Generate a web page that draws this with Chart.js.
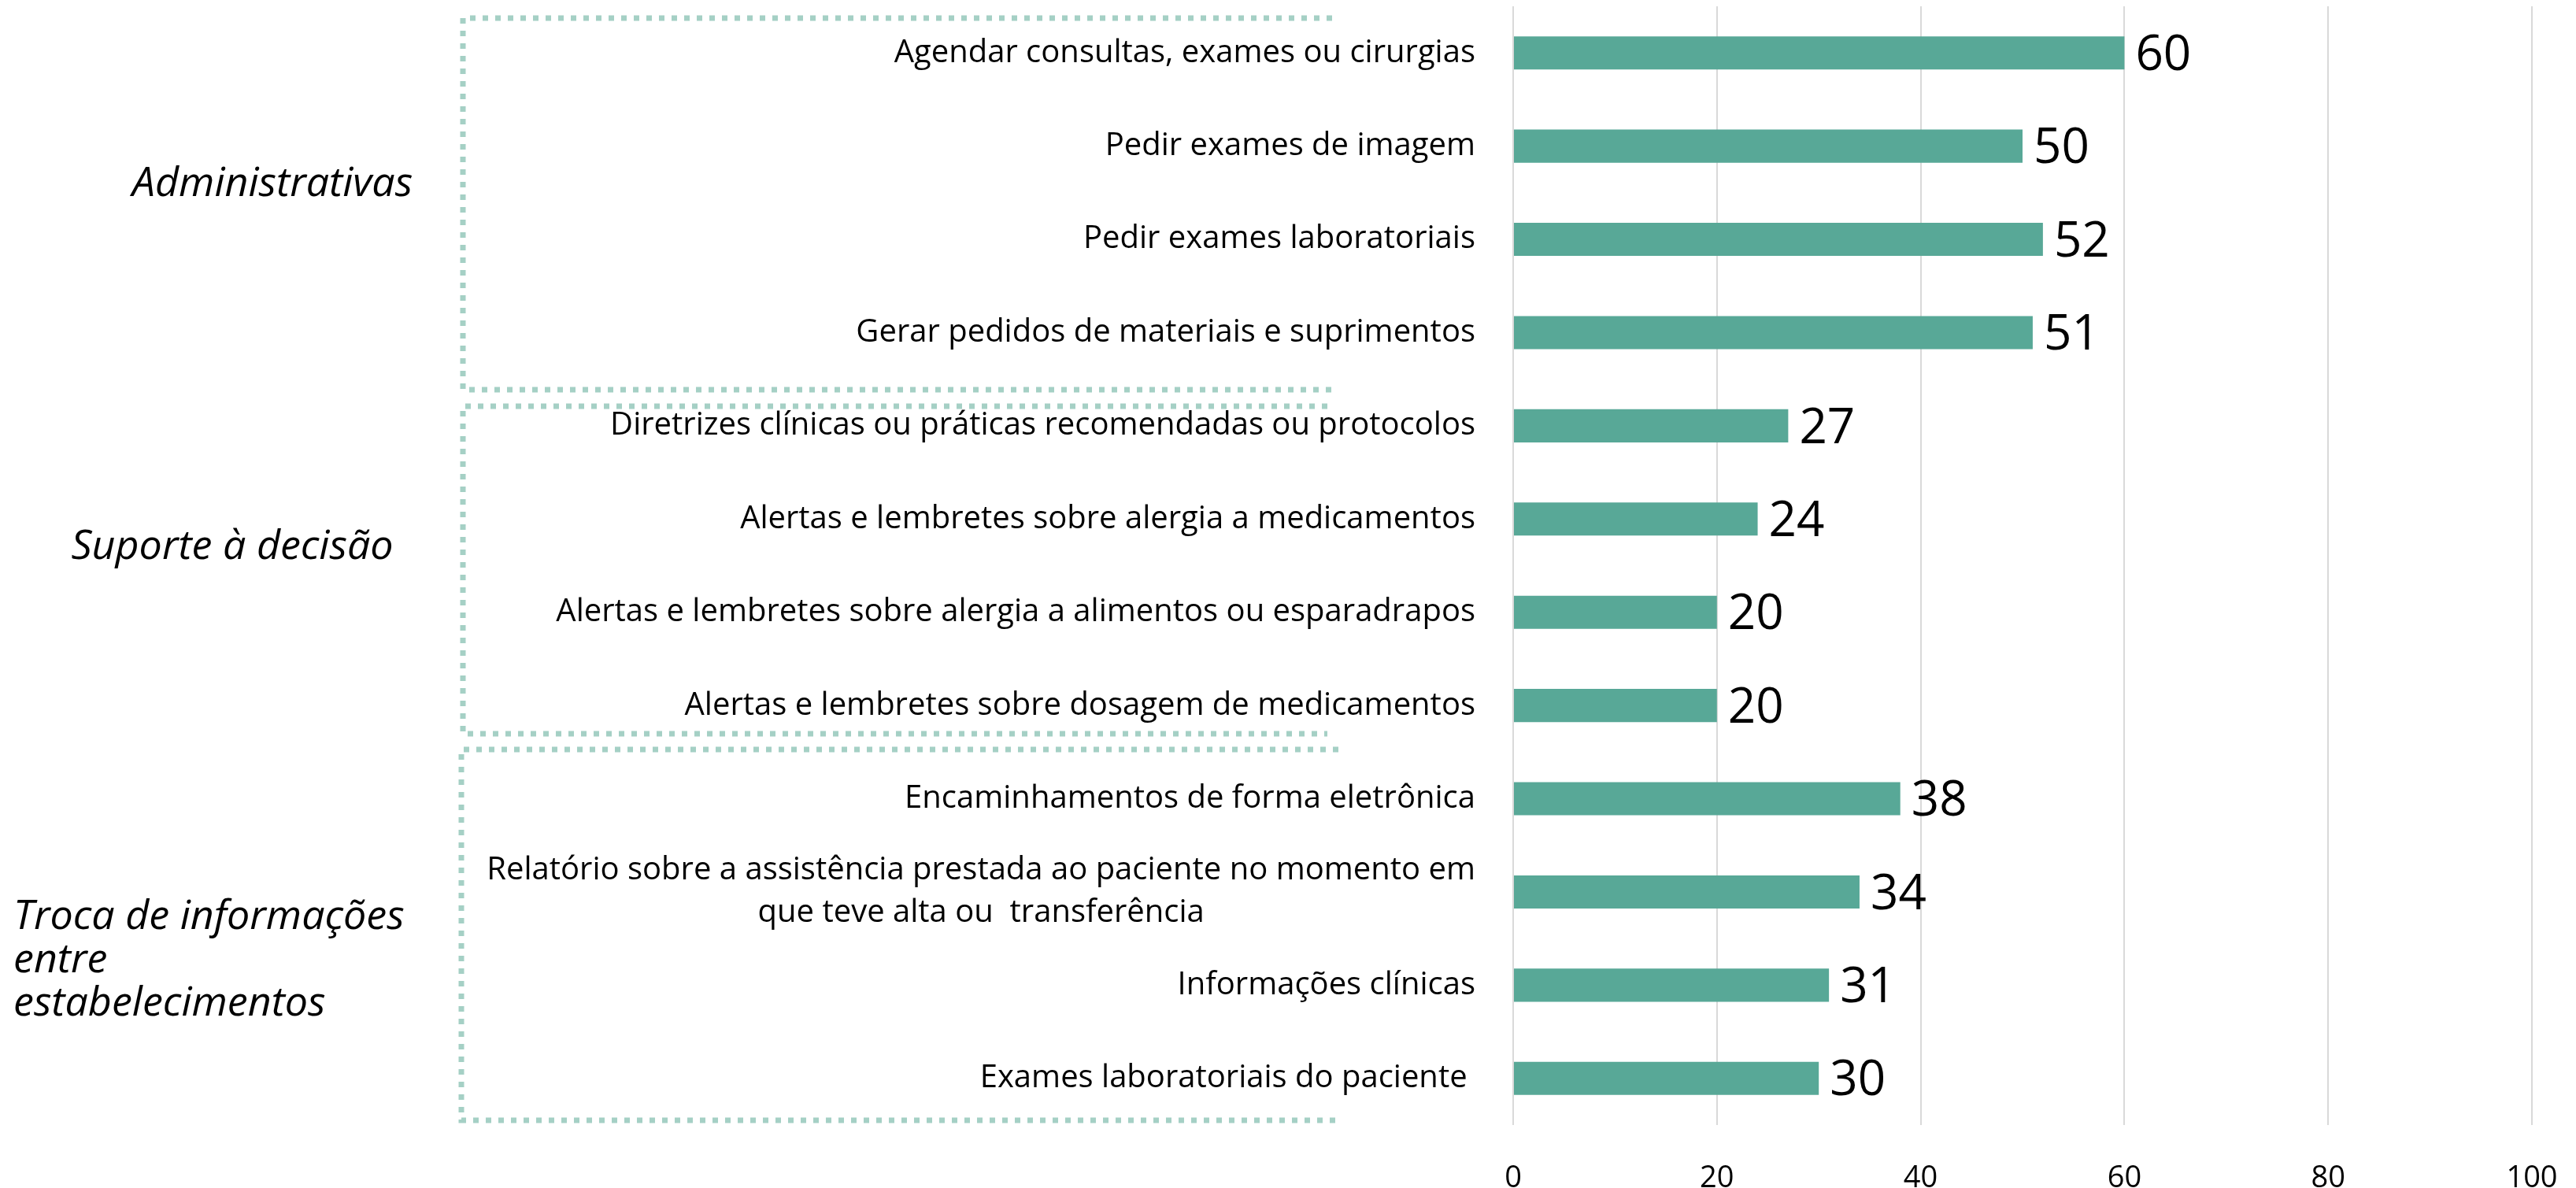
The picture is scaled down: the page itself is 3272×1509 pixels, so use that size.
<!DOCTYPE html>
<html>
<head>
<meta charset="utf-8">
<script src="https://cdn.jsdelivr.net/npm/chart.js@4"></script>
<style>
  html, body { margin: 0; padding: 0; background: #fff; }
  #chart { display: block; }
</style>
</head>
<body>
<canvas id="chart" width="3272" height="1509"></canvas>
<script>
// Chart data
const categories = [
    'Agendar consultas, exames ou cirurgias',
    'Pedir exames de imagem',
    'Pedir exames laboratoriais',
    'Gerar pedidos de materiais e suprimentos',
    'Diretrizes clínicas ou práticas recomendadas ou protocolos',
    'Alertas e lembretes sobre alergia a medicamentos',
    'Alertas e lembretes sobre alergia a alimentos ou esparadrapos',
    'Alertas e lembretes sobre dosagem de medicamentos',
    'Encaminhamentos de forma eletrônica',
    ['Relatório sobre a assistência prestada ao paciente no momento em', 'que teve alta ou  transferência'],
    'Informações clínicas',
    'Exames laboratoriais do paciente '
];
const values = [60, 50, 52, 51, 27, 24, 20, 20, 38, 34, 31, 30];
const xTicks = [0, 20, 40, 60, 80, 100];
const groupNames = [
    ['Administrativas'],
    ['Suporte à decisão'],
    ['Troca de informações', 'entre', 'estabelecimentos']
];

const FONT = '"Open Sans", "Noto Sans", sans-serif';
const BAR_COLOR = '#58a897';
const BRACKET_COLOR = '#a5d0c5';

// category labels drawn to the left of the plot, multi-line ones centred on their block
const categoryLabels = {
    id: 'categoryLabels',
    afterDraw(chart) {
        const ctx = chart.ctx;
        const y = chart.scales.y;
        const right = chart.chartArea.left - 48;
        const lineH = 54;
        ctx.save();
        ctx.font = '40px ' + FONT;
        ctx.fillStyle = '#000';
        ctx.textBaseline = 'middle';
        categories.forEach((label, i) => {
            const cy = y.getPixelForValue(i);
            if (Array.isArray(label)) {
                const maxW = Math.max(...label.map(l => ctx.measureText(l).width));
                const cx = right - maxW / 2;
                ctx.textAlign = 'center';
                label.forEach((line, j) => {
                    ctx.fillText(line, cx, cy + (j - (label.length - 1) / 2) * lineH);
                });
            } else {
                ctx.textAlign = 'right';
                ctx.fillText(label, right, cy);
            }
        });
        ctx.restore();
    }
};

// numbers at the end of each bar
const valueLabels = {
    id: 'valueLabels',
    afterDatasetsDraw(chart) {
        const ctx = chart.ctx;
        const meta = chart.getDatasetMeta(0);
        ctx.save();
        ctx.font = '62px ' + FONT;
        ctx.fillStyle = '#000';
        ctx.textAlign = 'left';
        ctx.textBaseline = 'middle';
        meta.data.forEach((bar, i) => {
            ctx.fillText(String(values[i]), bar.x + 14, bar.y + 4);
        });
        ctx.restore();
    }
};

// dotted brackets and italic group titles on the left
const groupBrackets = {
    id: 'groupBrackets',
    afterDraw(chart) {
        const ctx = chart.ctx;
        const boxes = [
            { left: 588, right: 1692, top: 23, bottom: 495 },
            { left: 588, right: 1686, top: 516, bottom: 932 },
            { left: 586, right: 1700, top: 952, bottom: 1423 }
        ];
        const titles = [
            { x: 346, y: 234, align: 'center' },
            { x: 295, y: 695, align: 'center' },
            { x: 17, y: 1165, align: 'left' }
        ];
        ctx.save();
        ctx.strokeStyle = BRACKET_COLOR;
        ctx.lineWidth = 7;
        ctx.setLineDash([7, 9]);
        boxes.forEach(b => {
            ctx.beginPath();
            ctx.moveTo(b.right, b.top);
            ctx.lineTo(b.left, b.top);
            ctx.lineTo(b.left, b.bottom);
            ctx.lineTo(b.right, b.bottom);
            ctx.stroke();
        });
        ctx.setLineDash([]);
        ctx.font = 'italic 52px ' + FONT;
        ctx.fillStyle = '#000';
        ctx.textBaseline = 'middle';
        groupNames.forEach((lines, i) => {
            const t = titles[i];
            ctx.textAlign = t.align;
            lines.forEach((line, j) => {
                ctx.fillText(line, t.x, t.y + j * 55);
            });
        });
        ctx.restore();
    }
};

document.addEventListener('DOMContentLoaded', function() {
    const ctx = document.getElementById('chart').getContext('2d');

    new Chart(ctx, {
        type: 'bar',
        data: {
            labels: categories,
            datasets: [{
                data: values,
                backgroundColor: BAR_COLOR,
                borderWidth: 0,
                barPercentage: 0.71,
                categoryPercentage: 0.5
            }]
        },
        options: {
            indexAxis: 'y',
            responsive: false,
            animation: false,
            layout: {
                padding: { left: 1922, right: 56, top: 8, bottom: 0 }
            },
            plugins: {
                legend: { display: false },
                tooltip: { enabled: false }
            },
            scales: {
                y: {
                    display: false
                },
                x: {
                    min: 0,
                    max: 100,
                    afterBuildTicks: scale => {
                        scale.ticks = xTicks.map(v => ({ value: v }));
                    },
                    afterFit: scale => {
                        scale.height = 80;
                        // let the layout padding alone decide the plot edges
                        scale.paddingLeft = 0;
                        scale.paddingRight = 0;
                    },
                    border: { display: false },
                    grid: {
                        color: '#d9d9d9',
                        lineWidth: 2,
                        drawTicks: false
                    },
                    ticks: {
                        padding: 45,
                        color: '#000',
                        font: { family: FONT, size: 38 }
                    }
                }
            }
        },
        plugins: [categoryLabels, valueLabels, groupBrackets]
    });
});
</script>
</body>
</html>
